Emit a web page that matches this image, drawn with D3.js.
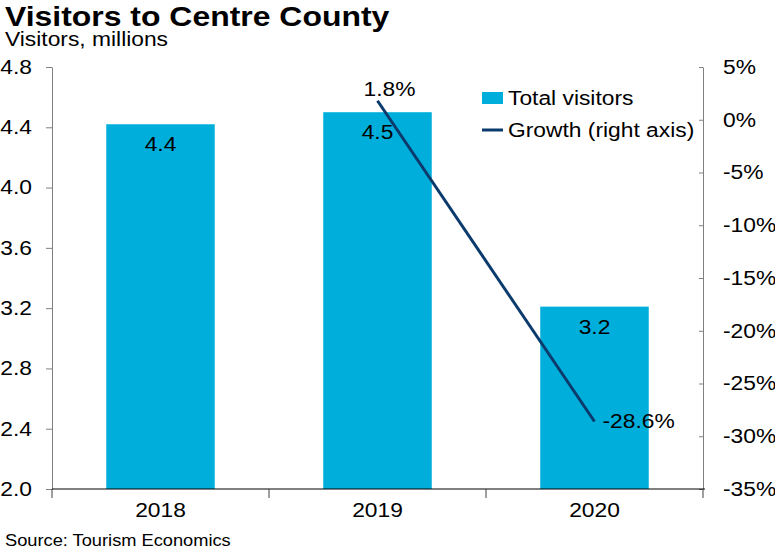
<!DOCTYPE html>
<html>
<head>
<meta charset="utf-8">
<title>Visitors to Centre County</title>
<style>
  body { margin: 0; background: #fff; }
  text { font-family: "Liberation Sans", Arial, sans-serif; fill: #000; }
</style>
</head>
<body>
<script src="https://d3js.org/d3.v7.min.js"></script>
<script>
// data
var years = ["2018", "2019", "2020"];
var visitors = [4.42, 4.5, 3.21];
var visitorLabels = ["4.4", "4.5", "3.2"];
var growthYears = ["2019", "2020"];
var growth = [1.8, -28.6];
var leftTicks = [2.0, 2.4, 2.8, 3.2, 3.6, 4.0, 4.4, 4.8];
var rightTicks = [5, 0, -5, -10, -15, -20, -25, -30, -35];

var width = 775, height = 548;
var mLeft = 52, mRight = 703, mTop = 67, mBottom = 489;
var barColor = "#00aedb", lineColor = "#0b3a6c";
var stretch = 1.14; // reference text is a bit wider than plain Arial

var svg = d3.select("body").append("svg")
    .attr("width", width)
    .attr("height", height);

var x = d3.scaleBand().domain(years).range([mLeft, mRight])
    .paddingInner(0.5).paddingOuter(0.25);
var y = d3.scaleLinear().domain([2.0, 4.8]).range([mBottom, mTop]);
var y2 = d3.scaleLinear().domain([-35, 5]).range([mBottom, mTop]);

// bars
svg.selectAll("rect.bar")
    .data(years)
    .enter()
    .append("rect")
    .attr("class", "bar")
    .attr("x", function(d) { return x(d); })
    .attr("y", function(d, i) { return y(visitors[i]); })
    .attr("width", x.bandwidth())
    .attr("height", function(d, i) { return mBottom - y(visitors[i]); })
    .attr("fill", barColor);

// bar labels
svg.selectAll("text.blab")
    .data(years)
    .enter()
    .append("text")
    .attr("class", "blab")
    .attr("x", function(d) { return x(d) + x.bandwidth() / 2; })
    .attr("y", function(d, i) { return y(visitors[i]) + 27; })
    .attr("text-anchor", "middle")
    .style("font-size", "20px")
    .text(function(d, i) { return visitorLabels[i]; });

// left axis
var gl = svg.append("g")
    .attr("transform", "translate(" + mLeft + ",0)")
    .call(d3.axisLeft(y).tickValues(leftTicks).tickFormat(d3.format(".1f"))
        .tickSizeInner(6).tickSizeOuter(0).tickPadding(14));
gl.select(".domain").attr("stroke", "#808080");
gl.selectAll(".tick line").attr("stroke", "#808080");
gl.selectAll("text").style("font-size", "20px").attr("fill", "#000")
    .attr("font-family", null);

// right axis, ticks pointing inward
var gr = svg.append("g")
    .attr("transform", "translate(" + mRight + ",0)")
    .call(d3.axisRight(y2).tickValues(rightTicks).tickFormat(function(d) { return d + "%"; })
        .tickSizeInner(-4).tickSizeOuter(0).tickPadding(20));
gr.select(".domain").attr("stroke", "#808080");
gr.selectAll(".tick line").attr("stroke", "#808080");
gr.selectAll("text").style("font-size", "20px").attr("fill", "#000")
    .attr("font-family", null);

// x axis
var gx = svg.append("g")
    .attr("transform", "translate(0," + mBottom + ")")
    .call(d3.axisBottom(x).tickSize(0).tickPadding(14));
gx.select(".domain").remove();
gx.selectAll("text").style("font-size", "20px").attr("fill", "#000")
    .attr("font-family", null);
gx.append("line")
    .attr("x1", mLeft).attr("x2", mRight + 2)
    .attr("stroke", "#000");
gx.selectAll("line.sep")
    .data(d3.range(years.length + 1))
    .enter()
    .append("line")
    .attr("class", "sep")
    .attr("x1", function(i) { return mLeft + i * x.step(); })
    .attr("x2", function(i) { return mLeft + i * x.step(); })
    .attr("y1", 0).attr("y2", 9)
    .attr("stroke", "#404040");

// growth line
var line = d3.line()
    .x(function(d, i) { return x(growthYears[i]) + x.bandwidth() / 2; })
    .y(function(d) { return y2(d); });
svg.append("path")
    .datum(growth)
    .attr("d", line)
    .attr("fill", "none")
    .attr("stroke", lineColor)
    .attr("stroke-width", 3);

svg.append("text")
    .attr("x", x(growthYears[0]) + x.bandwidth() / 2 + 12)
    .attr("y", y2(growth[0]) - 5)
    .attr("text-anchor", "middle")
    .style("font-size", "20px")
    .text(growth[0].toFixed(1) + "%");
svg.append("text")
    .attr("x", x(growthYears[1]) + x.bandwidth() / 2 + 8)
    .attr("y", y2(growth[1]) + 7)
    .style("font-size", "20px")
    .text(growth[1].toFixed(1) + "%");

// legend
var lg = svg.append("g").attr("transform", "translate(482,0)");
lg.append("rect").attr("x", 0).attr("y", 92).attr("width", 21).attr("height", 12)
    .attr("fill", barColor);
lg.append("text").attr("x", 26).attr("y", 105).style("font-size", "20px")
    .text("Total visitors");
lg.append("line").attr("x1", 0).attr("x2", 21).attr("y1", 130).attr("y2", 130)
    .attr("stroke", lineColor).attr("stroke-width", 3);
lg.append("text").attr("x", 26).attr("y", 137).style("font-size", "20px")
    .text("Growth (right axis)");

// titles
svg.append("text").attr("x", 5).attr("y", 26)
    .style("font-size", "28px").style("font-weight", "bold")
    .text("Visitors to Centre County");
svg.append("text").attr("x", 5).attr("y", 46)
    .style("font-size", "20px")
    .text("Visitors, millions");
svg.append("text").attr("x", 5).attr("y", 546)
    .style("font-size", "16px")
    .text("Source: Tourism Economics");

// widen every text to match the reference's glyph widths
svg.selectAll("text").each(function() {
    var len = this.getComputedTextLength();
    d3.select(this)
        .attr("textLength", len * stretch)
        .attr("lengthAdjust", "spacingAndGlyphs");
});
</script>
</body>
</html>
